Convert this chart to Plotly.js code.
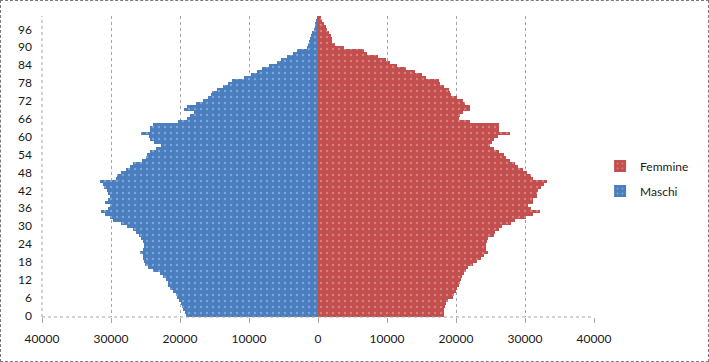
<!DOCTYPE html>
<html>
<head>
<meta charset="utf-8">
<script src="https://cdn.plot.ly/plotly-3.0.1.min.js"></script>
<style>
html,body{margin:0;padding:0;background:#fff;}
#wrap{width:709px;height:362px;box-sizing:border-box;border:1px dashed #7a7a7a;}
#chart{width:707px;height:360px;}
</style>
</head>
<body>
<div id="wrap"><div id="chart"></div></div>
<script>
// Ages 0..100
const ages = Array.from({length: 101}, (_, i) => i);

// Maschi (males) by age 0..100
const maschi = [
  19100, 19300, 19500, 19700, 19900, 20100, 20400, 20600, 21000, 21400,
  21700, 21800, 22000, 22400, 22900, 23900, 24600, 25100, 25200, 25300,
  25300, 25800, 25300, 25200, 25200, 25300, 25600, 25900, 26400, 26800,
  27700, 28600, 29700, 30100, 30900, 31500, 30500, 30100, 30900, 30400,
  30200, 30400, 30600, 31000, 31200, 31600, 29300, 29100, 28500, 27800,
  27200, 26800, 25500, 25000, 24800, 24300, 23500, 22800, 23700, 24300,
  24500, 25700, 24400, 24300, 23900, 20300, 19000, 18500, 17900, 19400,
  19000, 17700, 16600, 16000, 15500, 15400, 14700, 13800, 13000, 12500,
  10700, 9750, 8900, 8100, 7050, 5900, 5300, 4450, 3600, 3100,
  1550, 1450, 1350, 1150, 950, 800, 650, 500, 400, 250,
  100
];

// Femmine (females) by age 0..100
const femmine = [
  18200, 18200, 18300, 18400, 18600, 18900, 19500, 19700, 20000, 20200,
  20400, 20600, 20700, 20800, 21100, 21500, 21800, 22400, 23100, 23600,
  24000, 24600, 24400, 24300, 24300, 24500, 24600, 25500, 25700, 26200,
  26700, 27900, 28600, 30100, 31200, 32200, 30800, 30500, 31100, 31100,
  31700, 31800, 31900, 32300, 32700, 33200, 31200, 30800, 30300, 29700,
  29000, 28500, 27800, 27300, 26900, 26200, 25500, 24900, 25200, 25500,
  26100, 27800, 26300, 26300, 26200, 22100, 20500, 20600, 21000, 22000,
  22000, 21300, 21000, 20200, 19300, 19200, 19000, 18300, 17700, 17500,
  15700, 15000, 14100, 12800, 11400, 10400, 9900, 8700, 7100, 6700,
  3700, 2400, 2100, 2100, 1850, 1600, 1300, 1200, 900, 650,
  450
];

const xTickVals = [-40000, -30000, -20000, -10000, 0, 10000, 20000, 30000, 40000];
const xTickText = ['40000', '30000', '20000', '10000', '0', '10000', '20000', '30000', '40000'];
const yTickVals = [0, 6, 12, 18, 24, 30, 36, 42, 48, 54, 60, 66, 72, 78, 84, 90, 96];

const font = {family: 'Lato, "Open Sans", sans-serif', size: 12, color: '#1a1a1a'};

const traces = [
  {
    type: 'bar', orientation: 'h', name: 'Femmine',
    y: ages, x: femmine,
    marker: {color: '#c24f4d', line: {width: 0},
             pattern: {shape: '.', size: 6, solidity: 0.12, fgcolor: '#d9807e', bgcolor: '#c24f4d', fillmode: 'replace'}},
    legendgroup: 'f'
  },
  {
    type: 'bar', orientation: 'h', name: 'Maschi',
    y: ages, x: maschi.map(v => -v),
    marker: {color: '#4a7ebe', line: {width: 0},
             pattern: {shape: '.', size: 6, solidity: 0.12, fgcolor: '#7fa6d8', bgcolor: '#4a7ebe', fillmode: 'replace'}},
    legendgroup: 'm'
  }
];

const layout = {
  width: 707, height: 360,
  margin: {l: 41, r: 114, t: 15, b: 44, pad: 0},
  paper_bgcolor: '#fff', plot_bgcolor: '#fff',
  font: font,
  barmode: 'relative', bargap: 0,
  showlegend: true,
  legend: {
    x: 1.011, xanchor: 'left', y: 0.46, yanchor: 'middle',
    traceorder: 'grouped', tracegroupgap: 6,
    font: {family: font.family, size: 12, color: '#1a1a1a'},
    bgcolor: 'rgba(0,0,0,0)'
  },
  xaxis: {
    range: [-40000, 40000],
    tickmode: 'array', tickvals: xTickVals, ticktext: xTickText,
    showgrid: true, gridcolor: '#a6a6a6', griddash: 'dot', gridwidth: 1,
    zeroline: false, showline: false,
    ticks: 'outside', ticklen: 5, tickcolor: '#a6a6a6',
    ticklabelstandoff: 6,
    fixedrange: true
  },
  yaxis: {
    range: [-0.5, 100.5],
    tickmode: 'array', tickvals: yTickVals,
    showgrid: false, zeroline: false, showline: false,
    ticks: '', ticklabelstandoff: 9,
    fixedrange: true
  },
  shapes: [
    {type: 'line', xref: 'paper', yref: 'paper', x0: 0, x1: 1, y0: 0, y1: 0,
     line: {color: '#a6a6a6', width: 1, dash: 'dot'}},
    {type: 'line', xref: 'paper', yref: 'paper', x0: 0, x1: 0, y0: 0, y1: 1,
     line: {color: '#a6a6a6', width: 1, dash: 'dot'}}
  ]
};

Plotly.newPlot('chart', traces, layout, {displayModeBar: false, staticPlot: true});
</script>
</body>
</html>
